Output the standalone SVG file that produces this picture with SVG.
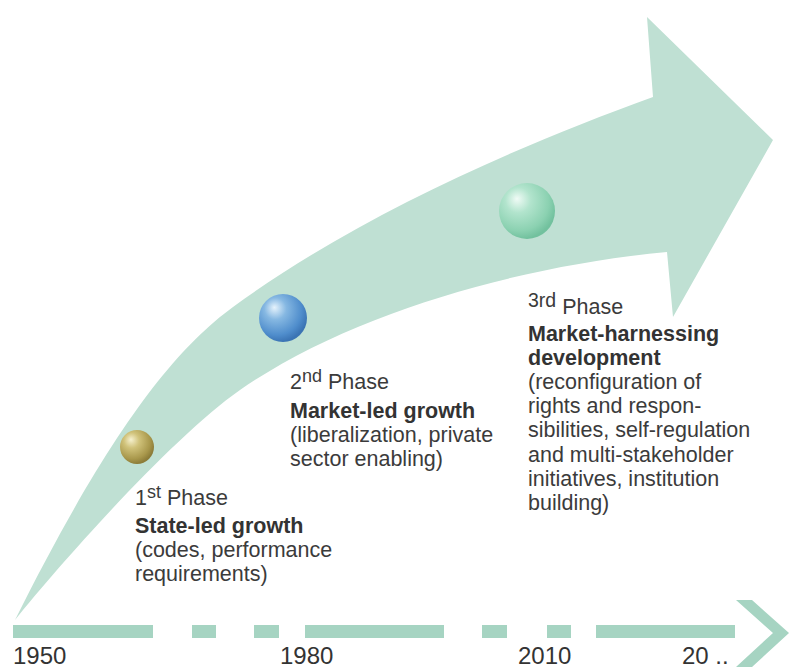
<svg xmlns="http://www.w3.org/2000/svg" width="791" height="670" viewBox="0 0 791 670">
  <defs>
    <radialGradient id="gGold" cx="0.38" cy="0.35" r="0.65" fx="0.32" fy="0.28">
      <stop offset="0" stop-color="#f6f1cf"/>
      <stop offset="0.35" stop-color="#d0c27a"/>
      <stop offset="0.8" stop-color="#a8974b"/>
      <stop offset="1" stop-color="#8c7c38"/>
    </radialGradient>
    <radialGradient id="gBlue" cx="0.38" cy="0.35" r="0.65" fx="0.32" fy="0.28">
      <stop offset="0" stop-color="#e6f3fc"/>
      <stop offset="0.35" stop-color="#86b8e2"/>
      <stop offset="0.8" stop-color="#4f8dcc"/>
      <stop offset="1" stop-color="#3b74b4"/>
    </radialGradient>
    <radialGradient id="gGreen" cx="0.38" cy="0.35" r="0.65" fx="0.32" fy="0.28">
      <stop offset="0" stop-color="#f0fbf6"/>
      <stop offset="0.35" stop-color="#b2e4cd"/>
      <stop offset="0.8" stop-color="#8bd1b1"/>
      <stop offset="1" stop-color="#72c19e"/>
    </radialGradient>
  </defs>
  <style>
    .band { fill: #bfe0d3; }
    .dash { fill: #a6d4c2; }
    text { font-family: "Liberation Sans", Arial, Helvetica, sans-serif; fill: #3b3b3b; }
    .t { font-size: 21.5px; }
    .b { font-size: 21.5px; font-weight: bold; fill: #333333; }
    .sup { font-size: 18px; }
    .year { font-size: 24px; fill: #333333; }
  </style>

  <g id="growth-arrow">
    <path class="band" d="M15,620 C105,440 170,353 233,307 C353,219 512,148 653,97 L647,17 L773,140 L673,317 L667,252 C528,265 355,310 240,390 C174,436 65,558 15,620 Z"/>
  </g>

  <g id="timeline">
    <rect class="dash" x="13" y="625" width="140" height="13"/>
    <rect class="dash" x="192" y="625" width="24" height="13"/>
    <rect class="dash" x="254" y="625" width="25" height="13"/>
    <rect class="dash" x="305" y="625" width="139" height="13"/>
    <rect class="dash" x="482" y="625" width="25" height="13"/>
    <rect class="dash" x="547" y="625" width="24" height="13"/>
    <rect class="dash" x="596" y="625" width="139" height="13"/>
    <polygon class="dash" points="736,600 752,600 789,633 752,667 736,667 773,633"/>
    <text class="year" x="13" y="664">1950</text>
    <text class="year" x="280" y="664">1980</text>
    <text class="year" x="518" y="664">2010</text>
    <text class="year" x="682" y="664">20 ..</text>
  </g>

  <g id="phase1">
    <circle cx="137" cy="447" r="17" fill="url(#gGold)"/>
    <text class="t" x="135" y="505">1<tspan class="sup" dy="-7">st</tspan><tspan dy="7"> Phase</tspan></text>
    <text class="b" x="135" y="533">State-led growth</text>
    <text class="t" x="135" y="557">(codes, performance</text>
    <text class="t" x="135" y="581">requirements)</text>
  </g>

  <g id="phase2">
    <circle cx="283" cy="318" r="24" fill="url(#gBlue)"/>
    <text class="t" x="290" y="389">2<tspan class="sup" dy="-7">nd</tspan><tspan dy="7"> Phase</tspan></text>
    <text class="b" x="290" y="418">Market-led growth</text>
    <text class="t" x="290" y="442">(liberalization, private</text>
    <text class="t" x="290" y="466">sector enabling)</text>
  </g>

  <g id="phase3">
    <circle cx="527" cy="211" r="28" fill="url(#gGreen)"/>
    <text class="t" x="528" y="314"><tspan class="sup" style="font-size:19.5px" dy="-7">3rd</tspan><tspan dy="7"> Phase</tspan></text>
    <text class="b" x="528" y="341">Market-harnessing</text>
    <text class="b" x="528" y="365">development</text>
    <text class="t" x="528" y="389">(reconfiguration of</text>
    <text class="t" x="528" y="413">rights and respon-</text>
    <text class="t" x="528" y="437">sibilities, self-regulation</text>
    <text class="t" x="528" y="462">and multi-stakeholder</text>
    <text class="t" x="528" y="486">initiatives, institution</text>
    <text class="t" x="528" y="510">building)</text>
  </g>
</svg>
